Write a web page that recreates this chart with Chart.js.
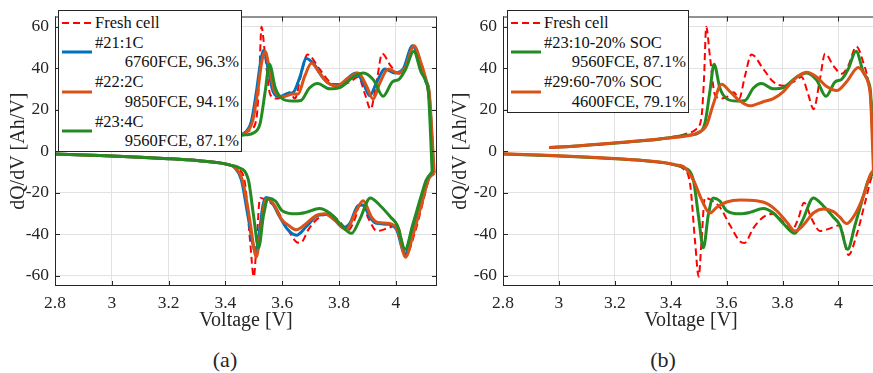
<!DOCTYPE html>
<html>
<head>
<meta charset="utf-8">
<script src="https://cdn.jsdelivr.net/npm/chart.js@4.4.1/dist/chart.umd.min.js"></script>
<style>
  html, body { margin: 0; padding: 0; background: #fff; width: 873px; height: 373px; overflow: hidden; position: relative; }
  canvas { position: absolute; top: 0; }
  .leg { position: absolute; background: #fff; border: 1px solid #262626; padding: 2px 2px 0 3px; box-sizing: border-box;
         font: 16.5px 'Liberation Serif', serif; line-height: 19.7px; color: #111; }
  .item { display: flex; align-items: center; }
  .item svg { flex: none; margin-right: 3px; }
  .txt { flex: 1; white-space: nowrap; }
  .txt div:nth-child(2) { text-align: right; }
  .cap { position: absolute; font: 22px 'Liberation Serif', serif; color: #262626; transform: translate(-50%, -50%); }
</style>
</head>
<body>
<canvas id="grafikA" width="445" height="340" style="left:0"></canvas>
<canvas id="grafikB" width="440" height="340" style="left:448px"></canvas>
<div class="leg" id="legA" style="left:58px; top:10px; width:184px"></div>
<div class="leg" id="legB" style="left:507px; top:10px; width:182px"></div>
<div class="cap" style="left:225px; top:360px">(a)</div>
<div class="cap" style="left:663px; top:360px">(b)</div>

<script>
// legend texts
const seriesA = ["Fresh cell", "#21:1C", "#22:2C", "#23:4C"];
const notesA = ["", "6760FCE, 96.3%", "9850FCE, 94.1%", "9560FCE, 87.1%"];
const seriesB = ["Fresh cell", "#23:10-20% SOC", "#29:60-70% SOC"];
const notesB = ["", "9560FCE, 87.1%", "4600FCE, 79.1%"];

// fresh cell (charge = upper branch, discharge = lower branch)
const freshChgV = [2.965, 3.05, 3.15, 3.25, 3.35, 3.42, 3.46, 3.49, 3.51, 3.519, 3.527, 3.54, 3.558, 3.582, 3.605, 3.625, 3.645, 3.665, 3.689, 3.731, 3.767, 3.803, 3.839, 3.868, 3.892, 3.911, 3.934, 3.952, 3.982, 4.011, 4.035, 4.064, 4.089, 4.107, 4.12, 4.132];
const freshChgQ = [1.8, 2.4, 3.4, 4.5, 5.8, 7.2, 8.6, 10.5, 16.4, 35, 60, 46, 27.3, 25.4, 26.5, 28.5, 25.5, 36, 46.7, 39.7, 33.5, 31.6, 33.5, 35.8, 27.3, 20.3, 35, 47.1, 41.2, 37.4, 41.2, 50.5, 42.8, 33.5, 20, -10];
const freshDisV = [2.8, 2.9, 3.0, 3.1, 3.2, 3.3, 3.38, 3.42, 3.445, 3.469, 3.487, 3.50, 3.51, 3.522, 3.54, 3.576, 3.612, 3.648, 3.664, 3.695, 3.731, 3.767, 3.803, 3.833, 3.856, 3.877, 3.904, 3.934, 3.97, 4.005, 4.036, 4.065, 4.095, 4.119, 4.132];
const freshDisQ = [-1.3, -1.8, -2.3, -2.9, -3.6, -4.5, -5.6, -6.8, -8.5, -15.5, -43.5, -60.5, -43.5, -22.5, -23.2, -27.1, -35.7, -43.5, -44.2, -37.2, -31.8, -30.2, -34.1, -38, -32.6, -24.8, -32.6, -38.5, -37.2, -35.7, -50, -40.3, -24.8, -12.4, -10];

// #21 1C
const c21ChgV = [2.965, 3.05, 3.15, 3.25, 3.35, 3.42, 3.467, 3.491, 3.508, 3.524, 3.535, 3.55, 3.567, 3.591, 3.62, 3.638, 3.661, 3.685, 3.714, 3.744, 3.773, 3.808, 3.838, 3.861, 3.885, 3.908, 3.932, 3.961, 3.997, 4.026, 4.059, 4.085, 4.105, 4.117, 4.134];
const c21ChgQ = [1.8, 2.4, 3.4, 4.5, 5.7, 7.0, 8.8, 14.3, 27.6, 43.1, 48.6, 40, 29.1, 26.3, 27.9, 28.3, 35.3, 44.7, 41.6, 35.3, 32.2, 32.2, 36.1, 37.7, 33, 26.8, 33, 39.7, 37.7, 39.7, 50.9, 43.1, 33.8, 28, -10.6];
const c21DisV = [2.8, 2.9, 3.0, 3.1, 3.2, 3.3, 3.38, 3.42, 3.432, 3.456, 3.479, 3.497, 3.506, 3.52, 3.532, 3.544, 3.567, 3.591, 3.62, 3.65, 3.685, 3.726, 3.756, 3.785, 3.814, 3.838, 3.867, 3.885, 3.908, 3.932, 3.973, 4.003, 4.032, 4.061, 4.091, 4.114, 4.134];
const c21DisQ = [-1.3, -1.8, -2.3, -2.9, -3.6, -4.5, -5.6, -6.8, -7.8, -13.7, -30.9, -44.9, -48.8, -38.6, -26.2, -22.3, -25.4, -31.6, -37.9, -40.5, -36.3, -30.9, -30.5, -33.2, -36.8, -34.8, -26.2, -25.9, -31.6, -34.8, -35.2, -37.9, -49.6, -38.6, -24.6, -13.7, -10.6];

// #22 2C
const c22ChgV = [2.965, 3.05, 3.15, 3.25, 3.35, 3.42, 3.467, 3.497, 3.514, 3.528, 3.54, 3.556, 3.573, 3.603, 3.638, 3.656, 3.679, 3.703, 3.732, 3.761, 3.791, 3.832, 3.867, 3.897, 3.92, 3.944, 3.973, 4.008, 4.032, 4.064, 4.091, 4.108, 4.118, 4.135];
const c22ChgQ = [1.8, 2.4, 3.4, 4.5, 5.7, 7.0, 8.6, 15.1, 29.1, 43.1, 48.1, 39.2, 29.1, 26.3, 27.6, 27.6, 36.1, 42.4, 37.7, 33, 31.5, 35.3, 37.7, 31.5, 25.2, 33, 39.7, 37.7, 40, 50.9, 41.6, 33.8, 28, -10.6];
const c22DisV = [2.8, 2.9, 3.0, 3.1, 3.2, 3.3, 3.38, 3.42, 3.432, 3.461, 3.485, 3.5, 3.508, 3.524, 3.536, 3.547, 3.573, 3.597, 3.62, 3.65, 3.685, 3.72, 3.75, 3.785, 3.826, 3.856, 3.885, 3.914, 3.938, 3.979, 4.008, 4.034, 4.061, 4.091, 4.117, 4.135];
const c22DisQ = [-1.3, -1.8, -2.3, -2.9, -3.6, -4.5, -5.6, -6.8, -7.5, -14.5, -32.4, -46.4, -51.1, -38.6, -26.2, -22.8, -26.2, -32.7, -35.5, -37.9, -34.8, -30.9, -30.1, -33.2, -37.9, -30.1, -23.9, -31.6, -34.4, -34.8, -38.6, -51.1, -40.2, -25.4, -13, -10.6];

// #23 4C / 10-20% SOC (same cell in both panels)
const c23ChgV = [2.965, 3.05, 3.15, 3.25, 3.35, 3.42, 3.47, 3.5, 3.522, 3.54, 3.555, 3.576, 3.6, 3.636, 3.666, 3.695, 3.725, 3.767, 3.803, 3.85, 3.886, 3.922, 3.955, 3.988, 4.011, 4.035, 4.063, 4.089, 4.107, 4.115, 4.128];
const c23ChgQ = [1.8, 2.4, 3.4, 4.5, 5.7, 7.0, 7.9, 8.9, 13.3, 28.8, 42, 30.4, 25.4, 24.2, 24.5, 30.4, 32.7, 30.1, 30.7, 35.8, 37.8, 34.3, 26.5, 33.5, 34.7, 39.7, 48.2, 38.1, 33.5, 28, -10];
const c23DisV = [2.8, 2.9, 3.0, 3.1, 3.2, 3.3, 3.38, 3.42, 3.445, 3.481, 3.499, 3.517, 3.534, 3.552, 3.576, 3.6, 3.648, 3.683, 3.731, 3.767, 3.803, 3.844, 3.874, 3.91, 3.946, 3.982, 4.005, 4.033, 4.059, 4.089, 4.107, 4.128];
const c23DisQ = [-1.3, -1.8, -2.3, -2.9, -3.6, -4.5, -5.6, -6.8, -7.7, -13.9, -31, -46.6, -31, -22.5, -24, -28.7, -30.2, -29.5, -27.6, -29.8, -34.9, -39.6, -32.6, -22.5, -26.4, -31.8, -35.7, -47.3, -35.7, -21.7, -13.9, -10];

// #29 60-70% SOC
const c29ChgV = [2.965, 3.05, 3.15, 3.25, 3.35, 3.42, 3.445, 3.493, 3.528, 3.552, 3.582, 3.612, 3.648, 3.683, 3.731, 3.767, 3.803, 3.839, 3.886, 3.922, 3.958, 3.994, 4.029, 4.071, 4.095, 4.107, 4.115, 4.125];
const c29ChgQ = [1.8, 2.4, 3.5, 4.6, 5.8, 6.7, 7.1, 8.7, 12.5, 22.6, 32.3, 28.8, 24.2, 21.9, 23.9, 25.4, 28.8, 34.3, 38.1, 35.8, 31.2, 29.3, 33.5, 40.4, 36.6, 32.7, 25, -9.2];
const c29DisV = [2.8, 2.9, 3.0, 3.1, 3.2, 3.3, 3.38, 3.42, 3.445, 3.481, 3.51, 3.54, 3.564, 3.6, 3.648, 3.707, 3.743, 3.779, 3.815, 3.844, 3.874, 3.91, 3.946, 3.982, 4.005, 4.029, 4.053, 4.089, 4.113, 4.125];
const c29DisQ = [-1.2, -1.7, -2.2, -2.8, -3.5, -4.4, -5.5, -6.6, -7.4, -13.9, -23.2, -29.8, -27.1, -24.5, -23.5, -23.9, -25.1, -28.7, -34.1, -38.5, -35.7, -29.8, -27.9, -29.1, -31.8, -34.9, -31.8, -21.7, -11.6, -9.2];

const xTicks = { min: 2.8, max: 4.145, step: 0.2 };
const yTicks = { min: -65, max: 65, step: 20 };

const MAVI = "#0072BD", TURUNCU = "#D95319", YESIL = "#228B22", KIRMIZI = "#FF0000";
const SERIF = "'Liberation Serif', 'Times New Roman', serif";
Chart.defaults.font.family = SERIF;

const pts = (vs, qs) => vs.map((v, i) => ({ x: v, y: qs[i] }));

// one curve = two datasets (upper and lower branch), only the first one goes into the legend
const egri = (label, note, color, chgV, chgQ, disV, disQ, order, dashed) => {
    const style = {
        borderColor: color,
        borderWidth: dashed ? 2 : 3,
        borderDash: dashed ? [7, 4] : [],
        order: order,
        fill: false
    };
    return [
        { ...style, label, note, data: pts(chgV, chgQ) },
        { ...style, label: label + " (dis)", note, legend: false, data: pts(disV, disQ) }
    ];
};

// MATLAB style box with inner ticks
const cerceve = {
    id: "cerceve",
    afterDraw(chart) {
        const { ctx, chartArea: a, scales: { x, y } } = chart;
        ctx.save();
        ctx.strokeStyle = "#262626";
        ctx.lineWidth = 1;
        ctx.strokeRect(a.left + 0.5, a.top + 0.5, a.right - a.left - 1, a.bottom - a.top - 1);
        ctx.beginPath();
        x.ticks.forEach(t => {
            const px = Math.round(x.getPixelForValue(t.value)) + 0.5;
            ctx.moveTo(px, a.bottom); ctx.lineTo(px, a.bottom - 5);
            ctx.moveTo(px, a.top); ctx.lineTo(px, a.top + 5);
        });
        y.ticks.forEach(t => {
            const py = Math.round(y.getPixelForValue(t.value)) + 0.5;
            ctx.moveTo(a.left, py); ctx.lineTo(a.left + 5, py);
            ctx.moveTo(a.right, py); ctx.lineTo(a.right - 5, py);
        });
        ctx.stroke();
        ctx.restore();
    }
};

const grafikKur = (id, datasets, padRight, yTitlePad) => new Chart(document.getElementById(id), {
    type: "line",
    data: { datasets },
    options: {
        responsive: false,
        animation: false,
        events: [],
        layout: { padding: { left: 0, top: 7, right: padRight, bottom: 0 } },
        plugins: { legend: { display: false }, tooltip: { enabled: false } },
        elements: { point: { radius: 0 }, line: { cubicInterpolationMode: "monotone", borderJoinStyle: "round" } },
        scales: {
            x: {
                type: "linear", min: xTicks.min, max: xTicks.max,
                afterFit: s => { s.height = 54; },
                grid: { color: "#e2e2e2", drawTicks: false },
                border: { display: false },
                ticks: {
                    stepSize: xTicks.step, includeBounds: false, autoSkip: false, maxRotation: 0,
                    padding: 7, color: "#262626", font: { family: SERIF, size: 17.5 },
                    callback: v => String(Math.round(v * 10) / 10)
                },
                title: { display: true, text: "Voltage [V]", color: "#262626", font: { family: SERIF, size: 20, lineHeight: 1.2 }, padding: { top: 0, bottom: 7 } }
            },
            y: {
                type: "linear", min: yTicks.min, max: yTicks.max,
                afterFit: s => { s.width = 55; },
                grid: { color: "#e2e2e2", drawTicks: false },
                border: { display: false },
                ticks: {
                    stepSize: yTicks.step, includeBounds: false, padding: 6, color: "#262626", font: { family: SERIF, size: 17.5 },
                    callback: v => String(v)
                },
                title: { display: true, text: "dQ/dV [Ah/V]", color: "#262626", font: { family: SERIF, size: 20, lineHeight: 1.2 }, padding: { top: yTitlePad, bottom: 0 } }
            }
        }
    },
    plugins: [cerceve]
});

const setA = [
    ...egri(seriesA[0], notesA[0], KIRMIZI, freshChgV, freshChgQ, freshDisV, freshDisQ, 3, true),
    ...egri(seriesA[1], notesA[1], MAVI, c21ChgV, c21ChgQ, c21DisV, c21DisQ, 2, false),
    ...egri(seriesA[2], notesA[2], TURUNCU, c22ChgV, c22ChgQ, c22DisV, c22DisQ, 1, false),
    ...egri(seriesA[3], notesA[3], YESIL, c23ChgV, c23ChgQ, c23DisV, c23DisQ, 0, false)
];
const setB = [
    ...egri(seriesB[0], notesB[0], KIRMIZI, freshChgV, freshChgQ, freshDisV, freshDisQ, 2, true),
    ...egri(seriesB[1], notesB[1], YESIL, c23ChgV, c23ChgQ, c23DisV, c23DisQ, 1, false),
    ...egri(seriesB[2], notesB[2], TURUNCU, c29ChgV, c29ChgQ, c29DisV, c29DisQ, 0, false)
];

const grafikA = grafikKur("grafikA", setA, 8, 7);
const grafikB = grafikKur("grafikB", setB, 9, 1);

// legend boxes as html, built from the chart datasets
const lejantYap = (kutuId, chart) => {
    const html = chart.data.datasets.filter(d => d.legend !== false).map(d => {
        const dash = d.borderDash.length ? ` stroke-dasharray="${d.borderDash.join(",")}"` : "";
        const sample = `<svg width="30" height="6"><line x1="0" y1="3" x2="30" y2="3" stroke="${d.borderColor}" stroke-width="${d.borderWidth}"${dash}/></svg>`;
        const lines = `<div>${d.label}</div>` + (d.note ? `<div>${d.note}</div>` : "");
        return `<div class="item">${sample}<div class="txt">${lines}</div></div>`;
    }).join("");
    document.getElementById(kutuId).innerHTML = html;
};
lejantYap("legA", grafikA);
lejantYap("legB", grafikB);
</script>
</body>
</html>
